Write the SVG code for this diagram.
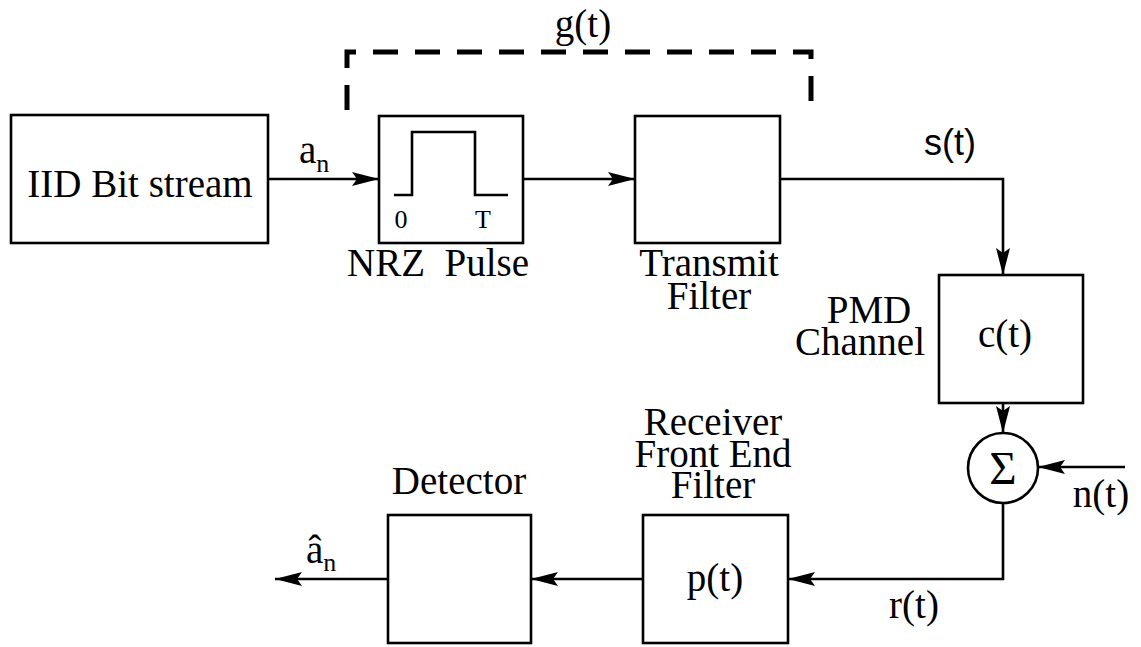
<svg xmlns="http://www.w3.org/2000/svg" width="1141" height="647" viewBox="0 0 1141 647">
<style>
.box{fill:#fff;stroke:#000;stroke-width:2.6}
.ln{fill:none;stroke:#000;stroke-width:2.6}
text{font-family:"Liberation Serif","Times New Roman",serif;font-size:39px;fill:#000}
text.ts{font-family:"Liberation Sans",Arial,sans-serif;font-size:36px}
.c{text-anchor:middle}
.sm{font-size:26px}
</style>
<defs>
<marker id="ah" markerUnits="userSpaceOnUse" markerWidth="28" markerHeight="14" refX="27" refY="7" orient="auto" overflow="visible">
<path d="M0,0 L27,7 L0,14 L5,7 z" fill="#000"/>
</marker>
</defs>
<rect width="1141" height="647" fill="#fff"/>
<g id="connectors">
<path class="ln" d="M268,179 H379" marker-end="url(#ah)"/>
<path class="ln" d="M523,179 H635" marker-end="url(#ah)"/>
<path class="ln" d="M780,179 H1003 V275" marker-end="url(#ah)"/>
<path class="ln" d="M1003,403 V433" marker-end="url(#ah)"/>
<path class="ln" d="M1125,467 H1038" marker-end="url(#ah)"/>
<path class="ln" d="M1003,503 V579 H788" marker-end="url(#ah)"/>
<path class="ln" d="M643,579 H531" marker-end="url(#ah)"/>
<path class="ln" d="M388,579 H275" marker-end="url(#ah)"/>
</g>
<g id="gt">
<path d="M347,116 V52 H811 V116" fill="none" stroke="#000" stroke-width="5" stroke-dasharray="25 17" stroke-dashoffset="-6"/>
<text class="c" x="583" y="37">g(t)</text>
</g>
<g id="iid">
<rect class="box" x="11" y="115" width="257" height="128"/>
<text class="c" x="140" y="197">IID Bit stream</text>
</g>
<g id="an-label">
<text x="299" y="163">a<tspan class="sm" dy="9">n</tspan></text>
</g>
<g id="nrz">
<rect class="box" x="379" y="116" width="144" height="127"/>
<path class="ln" d="M394,195 H412 V132 H475 V195 H508"/>
<text class="sm c" x="401" y="228">0</text>
<text class="sm c" x="483" y="228">T</text>
<text x="347" y="276" xml:space="preserve">NRZ  Pulse</text>
</g>
<g id="transmit">
<rect class="box" x="635" y="116" width="145" height="127"/>
<text class="c" x="709" y="276">Transmit</text>
<text class="c" x="709" y="309">Filter</text>
</g>
<g id="st-label">
<text class="ts c" x="950" y="155">s(t)</text>
</g>
<g id="channel">
<rect class="box" x="939" y="275" width="144" height="128"/>
<text class="c" x="1005" y="347">c(t)</text>
<text class="c" x="869" y="323">PMD</text>
<text class="c" x="860" y="355">Channel</text>
</g>
<g id="sum">
<circle class="box" cx="1003" cy="468" r="35"/>
<text class="c" x="1003" y="484" style="font-size:47px">Σ</text>
</g>
<g id="nt-label">
<text class="c" x="1101" y="507">n(t)</text>
</g>
<g id="receiver">
<rect class="box" x="643" y="515" width="145" height="128"/>
<text class="c" x="715" y="591">p(t)</text>
<text class="c" x="713" y="435">Receiver</text>
<text class="c" x="713" y="467">Front End</text>
<text class="c" x="713" y="498">Filter</text>
</g>
<g id="rt-label">
<text class="c" x="914" y="618">r(t)</text>
</g>
<g id="detector">
<rect class="box" x="388" y="515" width="143" height="128"/>
<text class="c" x="459" y="494">Detector</text>
</g>
<g id="ahat-label">
<text x="306" y="563">â<tspan class="sm" dy="8">n</tspan></text>
</g>
</svg>
